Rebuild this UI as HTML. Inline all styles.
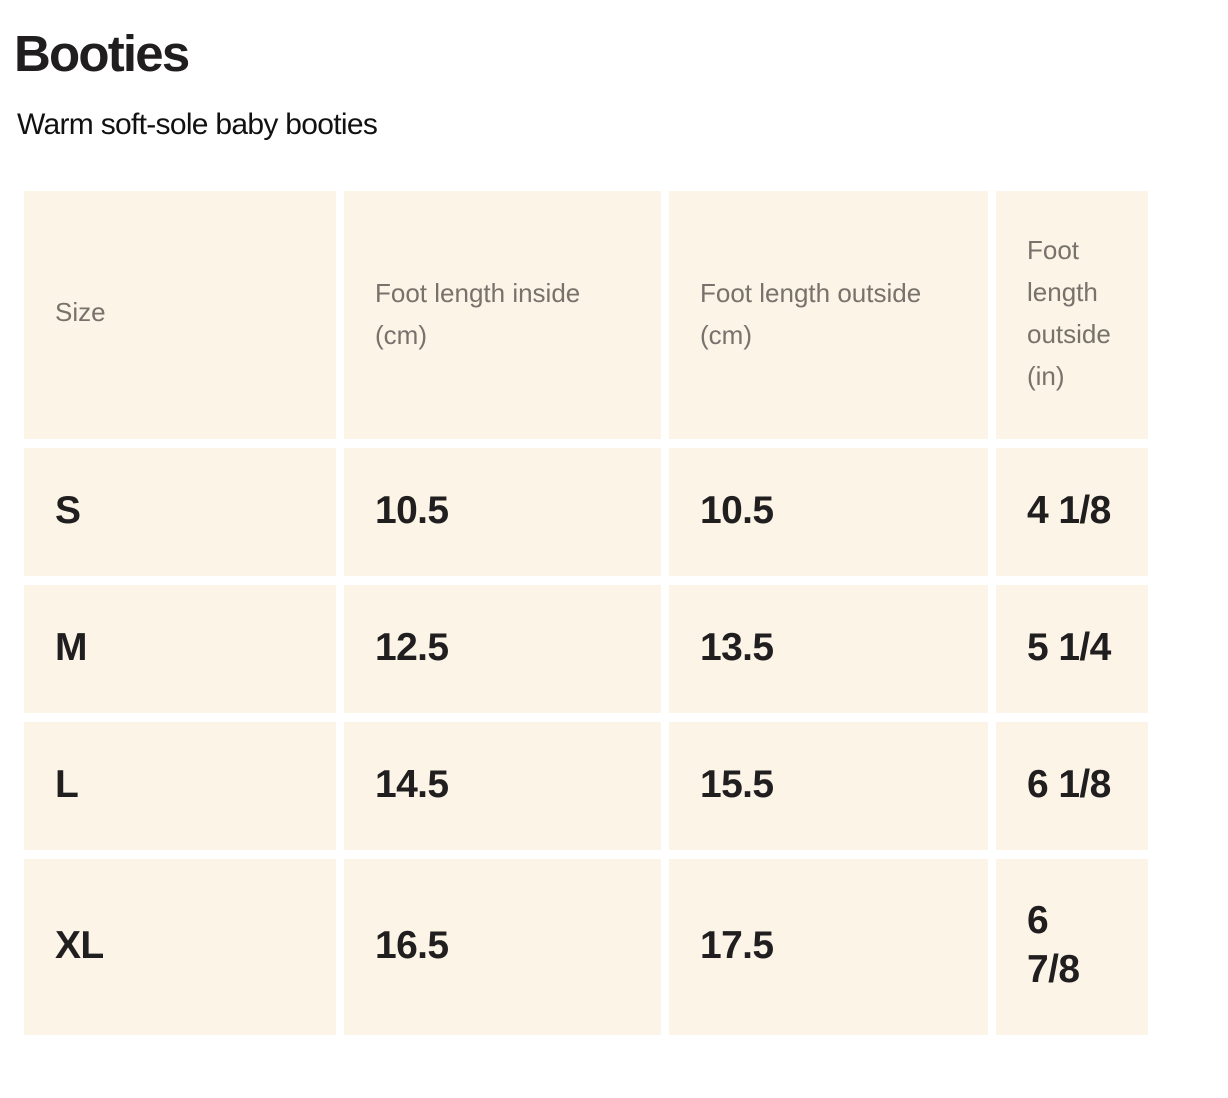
<!DOCTYPE html>
<html>
<head>
<meta charset="utf-8">
<style>
  html, body { margin:0; padding:0; background:#ffffff; }
  body { width:1228px; height:1098px; position:relative; overflow:hidden;
         font-family:"Liberation Sans", Arial, sans-serif; }
  .t { position:absolute; white-space:nowrap; }
  .title { left:14px; top:24px; font-size:51px; line-height:60px; font-weight:bold;
           letter-spacing:-1.8px; color:#211e1f; }
  .sub { left:17px; top:107px; font-size:30px; line-height:36px; letter-spacing:-0.7px; color:#111; }
  .cell { position:absolute; background:#fbf4e7; }
  .h { position:absolute; font-size:26px; line-height:42px; color:#77726b; white-space:nowrap; }
  .v { position:absolute; font-size:39px; line-height:48px; font-weight:bold; color:#211e1f;
       letter-spacing:-0.6px; white-space:nowrap; }
</style>
</head>
<body>
<div class="t title">Booties</div>
<div class="t sub">Warm soft-sole baby booties</div>

<!-- header row 191-439 -->
<div class="cell" style="left:24px;top:191px;width:312px;height:248px;"></div>
<div class="cell" style="left:344px;top:191px;width:317px;height:248px;"></div>
<div class="cell" style="left:669px;top:191px;width:319px;height:248px;"></div>
<div class="cell" style="left:996px;top:191px;width:152px;height:248px;"></div>

<!-- S row 448-576 -->
<div class="cell" style="left:24px;top:448px;width:312px;height:128px;"></div>
<div class="cell" style="left:344px;top:448px;width:317px;height:128px;"></div>
<div class="cell" style="left:669px;top:448px;width:319px;height:128px;"></div>
<div class="cell" style="left:996px;top:448px;width:152px;height:128px;"></div>

<!-- M row 585-713 -->
<div class="cell" style="left:24px;top:585px;width:312px;height:128px;"></div>
<div class="cell" style="left:344px;top:585px;width:317px;height:128px;"></div>
<div class="cell" style="left:669px;top:585px;width:319px;height:128px;"></div>
<div class="cell" style="left:996px;top:585px;width:152px;height:128px;"></div>

<!-- L row 722-850 -->
<div class="cell" style="left:24px;top:722px;width:312px;height:128px;"></div>
<div class="cell" style="left:344px;top:722px;width:317px;height:128px;"></div>
<div class="cell" style="left:669px;top:722px;width:319px;height:128px;"></div>
<div class="cell" style="left:996px;top:722px;width:152px;height:128px;"></div>

<!-- XL row 859-1035 -->
<div class="cell" style="left:24px;top:859px;width:312px;height:176px;"></div>
<div class="cell" style="left:344px;top:859px;width:317px;height:176px;"></div>
<div class="cell" style="left:669px;top:859px;width:319px;height:176px;"></div>
<div class="cell" style="left:996px;top:859px;width:152px;height:176px;"></div>

<!-- header texts -->
<div class="h" style="left:55px;top:291px;">Size</div>
<div class="h" style="left:375px;top:272px;">Foot length inside<br>(cm)</div>
<div class="h" style="left:700px;top:272px;">Foot length outside<br>(cm)</div>
<div class="h" style="left:1027px;top:229px;">Foot<br>length<br>outside<br>(in)</div>

<!-- S -->
<div class="v" style="left:55px;top:487px;">S</div>
<div class="v" style="left:375px;top:487px;">10.5</div>
<div class="v" style="left:700px;top:487px;">10.5</div>
<div class="v" style="left:1027px;top:487px;">4 1/8</div>

<!-- M -->
<div class="v" style="left:55px;top:624px;">M</div>
<div class="v" style="left:375px;top:624px;">12.5</div>
<div class="v" style="left:700px;top:624px;">13.5</div>
<div class="v" style="left:1027px;top:624px;">5 1/4</div>

<!-- L -->
<div class="v" style="left:55px;top:761px;">L</div>
<div class="v" style="left:375px;top:761px;">14.5</div>
<div class="v" style="left:700px;top:761px;">15.5</div>
<div class="v" style="left:1027px;top:761px;">6 1/8</div>

<!-- XL -->
<div class="v" style="left:55px;top:922px;">XL</div>
<div class="v" style="left:375px;top:922px;">16.5</div>
<div class="v" style="left:700px;top:922px;">17.5</div>
<div class="v" style="left:1027px;top:897px;line-height:48.5px;">6<br>7/8</div>
</body>
</html>
